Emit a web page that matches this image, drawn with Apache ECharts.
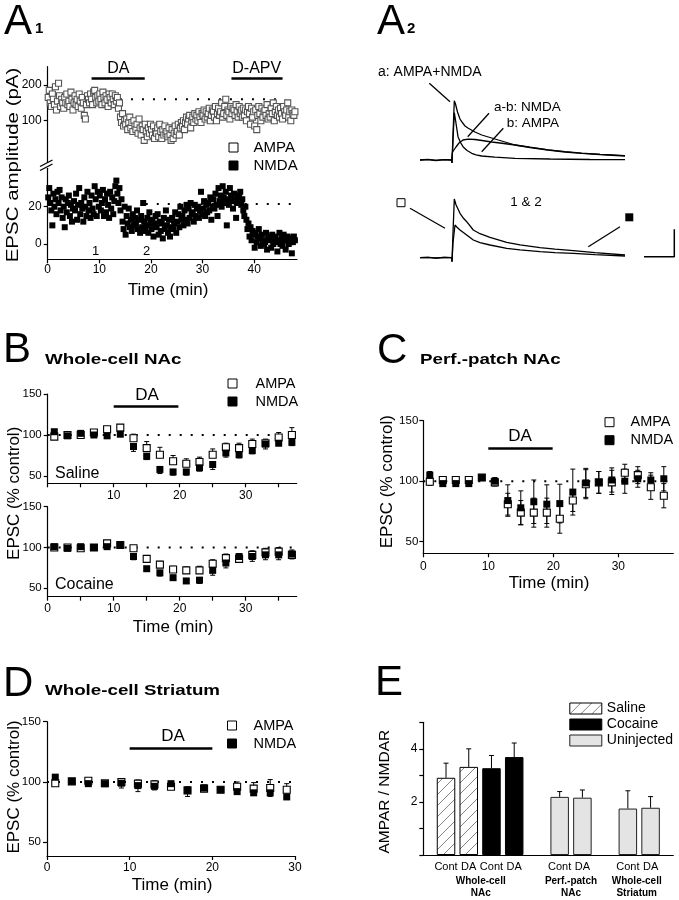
<!DOCTYPE html>
<html><head><meta charset="utf-8">
<script src="https://cdn.jsdelivr.net/npm/echarts@6/dist/echarts.min.js"></script>
<style>html,body{margin:0;padding:0;background:#fff}#c{width:679px;height:900px}</style>
</head><body><div id="c"></div>
<script>
const FF = 'Liberation Sans, Arial, Helvetica, sans-serif';

// ================= DATA =================
// Panel A1: EPSC amplitude (pA), one sample every a1StepMin minutes
const a1StepMin = 0.2;
const a1Ampa = [
165,185,150,140,175, 160,145,195,130,155, 205,170,140,160,150, 135,165,150,175,145,
155,140,180,160,130, 150,170,145,160,140, 175,155,135,165,150, 115,105,145,170,160,
150,175,160,145,180, 185,165,150,170,155, 175,160,145,180,165, 150,170,160,140,175,
165,150,175,160,145, 170,155,165,135,150, 110,95,120,85,100, 90,105,75,95,110,
80,95,70,100,85, 75,90,65,105,80, 60,85,75,45,90, 70,55,80,65,90,
75,60,85,50,70, 65,80,55,90,70, 50,75,60,85,65, 70,55,80,60,45,
75,50,65,85,60, 70,90,60,80,95, 85,100,75,95,110, 90,105,115,80,100,
110,95,120,105,115, 100,125,110,95,120, 115,130,105,125,110, 120,135,100,115,130,
125,110,140,100,120, 135,115,125,150,110, 120,140,160,115,130, 125,105,140,120,135,
130,115,145,125,110, 140,120,130,110,135, 115,130,100,125,140, 120,90,135,110,125,
85,130,75,115,140, 120,100,135,110,125, 130,115,145,105,120, 110,135,120,150,100,
125,140,115,130,110, 135,120,105,140,125, 115,130,150,110,125, 100,130,120,115,125
];
const a1Nmda = [
25,30,22,18,10, 27,20,24,16,28, 22,29,18,25,14, 20,9,24,17,22,
26,15,21,12,19, 23,18,27,13,21, 30,16,22,19,12, 25,20,15,28,18,
22,14,26,19,16, 31,24,15,28,20, 26,18,22,29,15, 24,17,27,21,14,
28,19,25,16,23, 31,34,27,22,30, 18,24,12,8,20, 5,15,11,19,9,
13,7,16,10,14, 11,18,8,13,6, 15,9,22,12,7, 10,14,6,17,11,
8,13,4,11,15, 9,16,5,12,7, 11,3,14,8,18, 10,6,13,4,9,
14,8,11,17,6, 12,16,9,20,13, 15,10,18,13,21, 11,19,14,22,16,
17,12,21,15,19, 20,14,18,28,16, 19,23,15,21,17, 22,18,25,13,20,
24,19,27,21,15, 30,23,26,20,31, 25,22,28,10,24, 21,30,26,23,19,
27,24,14,22,26, 25,28,21,24,18, 15,20,13,8,11, 4,9,2,7,5,
-2,6,1,4,8, 3,-1,5,2,0, 1,6,-3,3,4, 2,-2,5,0,3,
4,1,-4,2,6, 0,3,-1,5,2, -3,2,4,0,1, 3,-5,1,4,2
];
const a1AmpaBaseline = 160, a1NmdaBaseline = 21.5;
const a1DaPeriod = [8.5, 18.8], a1ApvPeriod = [35.6, 45.5];
const a1TopTicks = [100, 200], a1BotTicks = [0, 20], a1XTicks = [0, 10, 20, 30, 40];

// Panel A2: example traces (time, amplitude in arbitrary units)
const a2TraceA = [[0,0],[8,0.6],[16,-0.4],[24,0.4],[31.5,0],[32,-3],[33,25],[34.3,59.3],[35.5,56],[37.5,48],[40,41],[41.7,38.3],[45,34],[48.3,31.7],[55,28],[61.7,25],[70,22.5],[78.3,20],[86.7,17.5],[95,15],[110,12.5],[128,10],[145,8],[161.7,6.7],[180,5.5],[205,4]];
const a2TraceB = [[0,0],[8,0.4],[16,-0.5],[24,0.3],[31.5,0],[32,-3],[33,20],[34.3,47.3],[35.5,40],[38,23.3],[40.5,17.5],[43,13.3],[47,9.5],[51.7,6.7],[56,5.2],[61.7,4],[75,2.8],[95,1.7],[130,1],[170,0.5],[205,0.3]];
const a2TraceAB = [[31.7,0],[32.5,8],[34,10],[36,13],[39,17],[43,20],[48,20.8],[55,20.5],[62,19.5],[71.7,18],[80,17],[95,15],[110,12.8],[128,10.2],[145,8.3],[161.7,6.9],[180,5.7],[205,4.3]];
const a2Trace1 = [[0,0],[8,0.4],[16,-0.3],[24,0.3],[31.5,0],[32,-4],[33,25],[34.3,58.7],[36,53],[40,44.4],[43,40],[46.7,36],[53.3,27.7],[60,24],[70,20.4],[86.7,15.4],[100,12.8],[120,10],[135,8.5],[153.3,7],[175,5],[205,2.7]];
const a2Trace2 = [[0,0],[8,0.3],[16,-0.4],[24,0.2],[31.5,0],[32,-4],[33,15],[35,32.7],[37,30.5],[40,27.7],[46.7,22.7],[53.3,17.7],[60,15],[70,12.7],[86.7,9.3],[100,7.8],[120,6],[135,5],[153.3,4.3],[175,3],[205,1.7]];
const a2ScaleBar = [[224,1],[254.3,1],[254.3,28.4]];

// Panel B: whole-cell NAc (% control)
const bTimes = [1,3,5,7,9,11,13,15,17,19,21,23,25,27,29,31,33,35,37];
const bSalAmpa = [98,100,100,103,107,109,96,84,76,68,65,67,76,85,84,89,90,97,100];
const bSalAmpaErr = [3,3,3,3,3,3,5,8,9,7,6,6,7,5,6,6,5,6,9];
const bSalNmda = [104,99,102,100,99,101,86,74,58,55,55,60,64,78,76,81,89,90,91];
const bSalNmdaErr = [3,3,3,3,3,3,6,4,5,4,4,4,6,5,4,4,6,3,4];
const bCocAmpa = [100,100,99,100,105,103,99,86,79,73,72,72,80,87,86,91,94,95,91];
const bCocAmpaErr = [2,2,2,2,2,2,3,3,4,4,4,5,5,5,5,5,5,5,6];
const bCocNmda = [101,99,101,100,101,103,89,74,69,63,59,60,72,81,89,89,91,91,92];
const bCocNmdaErr = [2,2,2,2,2,2,4,3,4,3,3,4,6,6,6,6,6,6,6];

// Panel C: perforated patch NAc
const cTimes = bTimes;
const cAmpa = [99.5,101,101,101,103,99,81,74,74,74,69,84,97.5,99,99,107,105,95,88];
const cAmpaErr = [3,2,2,2,2,3,9,10,12,12,12,9,12,9,10,7,7,10,10];
const cNmda = [105,98,98,98,103,100,84,78,83,81,81.5,91,98.6,99,101,100,102,101,102];
const cNmdaErr = [3,2,2,2,2,3,13,14,18,16,16,19,12,9,10,10,7,6,10];

// Panel D: whole-cell striatum
const dTimes = [1,3,5,7,9,11,13,15,17,19,21,23,25,27,29];
const dAmpa = [99,100.5,101,99,100,98.6,98,96,93,94.5,93.6,96,94.5,95,93.6];
const dAmpaErr = [2,2,2,1.5,2,3,3,2,3,3,2,4,5,7,5];
const dNmda = [104,100.5,98.6,98.6,99,97,96.4,98.6,93,95,93.6,92,91,91,87.6];
const dNmdaErr = [4,2,2,2,4,5,3,2,5,3,2,2,2,3,2];

const pctTicks = [50, 100, 150];
const daPeriod = [10, 20];

// Panel E: AMPAR / NMDAR ratio
const eCategories = ['', 'Cont', 'DA', 'Cont', 'DA', '', 'Cont', 'DA', '', 'Cont', 'DA', ''];
const eSaline     = [null, 2.91, 3.32, null, null, null, null, null, null, null, null, null];
const eCocaine    = [null, null, null, 3.27, 3.69, null, null, null, null, null, null, null];
const eUninjected = [null, null, null, null, null, null, 2.19, 2.16, null, 1.75, 1.78, null];
const eErr        = [null, 0.55, 0.68, 0.48, 0.53, null, 0.20, 0.29, null, 0.67, 0.42, null];
const eLabelTicks = [2, 4];

// ================= HELPERS =================
const chart = echarts.init(document.getElementById('c'));
const BL = {color:'#000', width:1.2};

function axis(gi, min, max, labels, ticks, o) {
  o = o || {};
  const a = {
    type:'value', gridIndex:gi, min, max,
    axisLine:{show:true, onZero:false, lineStyle:BL},
    axisTick:{show:true, inside:false, length:4, lineStyle:BL},
    axisLabel:{show:true, color:'#000', fontSize:o.fs || 12, fontFamily:FF, margin:o.margin || 5},
    splitLine:{show:false}
  };
  if (labels) a.axisLabel.customValues = labels;
  if (ticks) a.axisTick.customValues = ticks;
  if (o.show === false) a.show = false;
  return a;
}
function sq(name, gi, times, vals, open, size, border) {
  return {type:'scatter', name, xAxisIndex:gi, yAxisIndex:gi, symbol:'rect', symbolSize:size, silent:true, z:3,
    itemStyle: open ? {color:'#fff', borderColor:border || '#000', borderWidth:1.1, opacity:1} : {color:'#000', opacity:1},
    data: times.map((t, i) => [t, vals[i]])};
}
function errSeries(gi, times, vals, errs, dir, capW) {
  const data = times.map((t, i) => [t, dir === 'up' ? vals[i] : vals[i] - errs[i], dir === 'down' ? vals[i] : vals[i] + errs[i]]);
  return {type:'custom', xAxisIndex:gi, yAxisIndex:gi, silent:true, z:2, data, encode:{x:0, y:[1,2]},
    renderItem: (params, api) => {
      const x = api.value(0);
      const p1 = api.coord([x, api.value(1)]), p2 = api.coord([x, api.value(2)]);
      const cw = capW / 2, st = {stroke:'#000', lineWidth:1};
      const ch = [{type:'line', shape:{x1:p1[0], y1:p1[1], x2:p2[0], y2:p2[1]}, style:st}];
      if (dir !== 'up') ch.push({type:'line', shape:{x1:p1[0]-cw, y1:p1[1], x2:p1[0]+cw, y2:p1[1]}, style:st});
      if (dir !== 'down') ch.push({type:'line', shape:{x1:p2[0]-cw, y1:p2[1], x2:p2[0]+cw, y2:p2[1]}, style:st});
      return {type:'group', children:ch};
    }};
}
function refLine(gi, x0, x1, y) {
  return {type:'line', xAxisIndex:gi, yAxisIndex:gi, data:[[x0, y], [x1, y]], symbol:'none', silent:true, z:1,
    lineStyle:{color:'#000', width:2, type:[2, 9]}};
}
function barMark(x0, x1, y, w) {
  return {silent:true, symbol:['none','none'], label:{show:false}, lineStyle:{color:'#000', width:w || 2.5, type:'solid'},
    data:[[{coord:[x0, y]}, {coord:[x1, y]}]]};
}
function trace(gi, pts, mark) {
  const s = {type:'line', xAxisIndex:gi, yAxisIndex:gi, data:pts, symbol:'none', silent:true, z:2,
    lineStyle:{color:'#000', width:1.3}};
  if (mark) s.markLine = {silent:true, symbol:['none','none'], label:{show:false},
    lineStyle:{color:'#000', width:1.3, type:'solid'},
    data: mark.map(m => [{coord:m[0]}, {coord:m[1]}])};
  return s;
}
function T(text, x, y, size, o) {
  o = o || {};
  return {type:'text', x, y, rotation:o.rot || 0, scaleX:o.sx || 1, silent:true, z:100,
    style:{text, fill:'#000', font:(o.bold ? 'bold ' : '') + size + 'px ' + FF,
      align:o.align || 'left', textAlign:o.align || 'left', verticalAlign:'middle', textVerticalAlign:'middle'}};
}
function legendSq(left, top, pad, fs) {
  return {left, top, orient:'vertical', itemWidth:9, itemHeight:9, itemGap:3, padding:0, selectedMode:false,
    textStyle:{fontSize:fs || 14.5, fontFamily:FF, color:'#000', padding:[0,0,0,pad]},
    data:[{name:'AMPA', icon:'rect', itemStyle:{color:'#fff', borderColor:'#000', borderWidth:1, opacity:1}},
          {name:'NMDA', icon:'rect', itemStyle:{color:'#000', borderColor:'#000', borderWidth:1, opacity:1}}]};
}

// hatch pattern for saline bars
const hc = document.createElement('canvas');
hc.width = 11; hc.height = 11;
const hx = hc.getContext('2d');
hx.fillStyle = '#fff'; hx.fillRect(0, 0, 11, 11);
hx.strokeStyle = '#777'; hx.lineWidth = 0.9;
hx.beginPath(); hx.moveTo(0, 11); hx.lineTo(11, 0); hx.moveTo(-1, 1); hx.lineTo(1, -1); hx.moveTo(10, 12); hx.lineTo(12, 10); hx.stroke();
const hatch = {image:hc, repeat:'repeat'};

// ================= OPTION =================
const grid = [
  {left:47.7, top:66.7, width:249.3, height:95},   // 0 A1 top
  {left:47.7, top:168.3, width:249.3, height:91},  // 1 A1 bottom
  {left:380, top:70, width:295, height:95},        // 2 A2 upper traces
  {left:380, top:192.7, width:295, height:70},     // 3 A2 lower traces
  {left:47.7, top:394, width:249, height:89.3},    // 4 B saline
  {left:47.7, top:506.7, width:249, height:90},    // 5 B cocaine
  {left:423.3, top:420.7, width:250, height:132.6},// 6 C
  {left:47, top:721.7, width:248, height:134.3},   // 7 D
  {left:423.3, top:722.3, width:250, height:132.7} // 8 E
];

const xAxis = [
  axis(0, 0, 48.3, null, null, {show:false}),
  axis(1, 0, 48.3, a1XTicks, a1XTicks, {margin:4}),
  axis(2, -40, 255, null, null, {show:false}),
  axis(3, -40, 255, null, null, {show:false}),
  axis(4, 0, 37.73, [10,20,30], [0,5,10,15,20,25,30,35], {margin:6}),
  axis(5, 0, 37.73, [0,10,20,30], [0,5,10,15,20,25,30,35], {margin:6}),
  axis(6, 0, 38.46, [0,10,20,30], [0,10,20,30], {margin:7}),
  axis(7, 0, 30, [0,10,20,30], [0,10,20,30], {margin:6}),
  {type:'category', gridIndex:8, data:eCategories, boundaryGap:false,
    axisLine:{show:true, lineStyle:BL}, axisTick:{show:false},
    axisLabel:{interval:0, color:'#000', fontSize:11, fontFamily:FF, margin:6}, splitLine:{show:false}}
];
const yAxis = [
  axis(0, -14.8, 251.3, a1TopTicks, a1TopTicks, {margin:6}),
  axis(1, -8.2, 40.6, a1BotTicks, a1BotTicks, {margin:6}),
  axis(2, -5, 90, null, null, {show:false}),
  axis(3, -5, 65, null, null, {show:false}),
  axis(4, 41.1, 150, pctTicks, pctTicks, {margin:6, fs:11.5}),
  axis(5, 39.7, 150, pctTicks, pctTicks, {margin:6, fs:11.5}),
  axis(6, 40.4, 150, pctTicks, pctTicks, {margin:5, fs:11.5}),
  axis(7, 38.6, 150, pctTicks, pctTicks, {margin:6, fs:11.5}),
  axis(8, 0, 5, eLabelTicks, [0,1,2,3,4,5], {margin:6})
];

const a1Times = a1Ampa.map((v, i) => (i + 0.5) * a1StepMin);
const series = [];
// A1
series.push(refLine(0, 14, 46, a1AmpaBaseline));
const sA1a = sq('AMPA', 0, a1Times, a1Ampa, true, 6, '#555');
sA1a.markLine = {silent:true, symbol:['none','none'], label:{show:false}, lineStyle:{color:'#000', width:2.5, type:'solid'},
  data:[[{coord:[a1DaPeriod[0], 220]}, {coord:[a1DaPeriod[1], 220]}], [{coord:[a1ApvPeriod[0], 220]}, {coord:[a1ApvPeriod[1], 220]}]]};
series.push(sA1a);
series.push(refLine(1, 19, 47.5, a1NmdaBaseline));
series.push(sq('NMDA', 1, a1Times, a1Nmda, false, 6));
// A2
series.push(trace(2, a2TraceA, [[[9.3, 76.7],[30, 58.3]], [[69, 46.7],[47.7, 23.3]], [[83.3, 31.7],[61.7, 8.3]]]));
series.push(trace(2, a2TraceB));
series.push(trace(2, a2TraceAB));
series.push(trace(3, a2Trace1, [[[-10, 49.4],[25, 29.4]], [[200, 31],[168.3, 11]]]));
series.push(trace(3, a2Trace2));
series.push({type:'line', xAxisIndex:3, yAxisIndex:3, data:a2ScaleBar, symbol:'none', silent:true, lineStyle:{color:'#000', width:1.5}});
// B saline
series.push(refLine(4, 0, 37.5, 100));
series.push(errSeries(4, bTimes, bSalAmpa, bSalAmpaErr, 'up', 5));
series.push(errSeries(4, bTimes, bSalNmda, bSalNmdaErr, 'down', 5));
const sBa = sq('AMPA', 4, bTimes, bSalAmpa, true, 7);
sBa.markLine = barMark(daPeriod[0], 19.8, 135.4);
series.push(sBa);
series.push(sq('NMDA', 4, bTimes, bSalNmda, false, 7));
// B cocaine
series.push(refLine(5, 0, 37.5, 100));
series.push(errSeries(5, bTimes, bCocAmpa, bCocAmpaErr, 'up', 5));
series.push(errSeries(5, bTimes, bCocNmda, bCocNmdaErr, 'down', 5));
series.push(sq('AMPA', 5, bTimes, bCocAmpa, true, 7));
series.push(sq('NMDA', 5, bTimes, bCocNmda, false, 7));
// C
series.push(refLine(6, 0, 38, 100));
series.push(errSeries(6, cTimes, cAmpa, cAmpaErr, 'both', 5));
series.push(errSeries(6, cTimes, cNmda, cNmdaErr, 'both', 5));
const sCa = sq('AMPA', 6, cTimes, cAmpa, true, 7);
sCa.markLine = barMark(daPeriod[0], 19.9, 127.5);
series.push(sCa);
series.push(sq('NMDA', 6, cTimes, cNmda, false, 7));
// D
series.push(refLine(7, 0, 30, 100));
series.push(errSeries(7, dTimes, dAmpa, dAmpaErr, 'up', 5));
series.push(errSeries(7, dTimes, dNmda, dNmdaErr, 'down', 5));
const sDa = sq('AMPA', 7, dTimes, dAmpa, true, 7);
sDa.markLine = barMark(daPeriod[0], daPeriod[1], 128.2);
series.push(sDa);
series.push(sq('NMDA', 7, dTimes, dNmda, false, 7));
// E
const barBase = {type:'bar', xAxisIndex:8, yAxisIndex:8, barWidth:18.5, barGap:'-100%', silent:true, z:2};
series.push(Object.assign({}, barBase, {name:'Saline', data:eSaline, itemStyle:{color:hatch, borderColor:'#000', borderWidth:1}}));
series.push(Object.assign({}, barBase, {name:'Cocaine', data:eCocaine, itemStyle:{color:'#000', borderColor:'#000', borderWidth:1}}));
series.push(Object.assign({}, barBase, {name:'Uninjected', data:eUninjected, itemStyle:{color:'#e4e4e4', borderColor:'#222', borderWidth:1}}));
const eTops = eSaline.map((v, i) => v != null ? v : (eCocaine[i] != null ? eCocaine[i] : eUninjected[i]));
const eIdx = [], eVals = [], eErrs = [];
eTops.forEach((v, i) => { if (v != null) { eIdx.push(i); eVals.push(v); eErrs.push(eErr[i]); } });
series.push(errSeries(8, eIdx, eVals, eErrs, 'up', 5));

const legend = [
  legendSq(228.5, 140, 10.5, 15),
  legendSq(227.5, 376, 13.5),
  legendSq(604.5, 414.7, 11.5),
  legendSq(227, 718, 12),
  {left:569.3, top:701.5, orient:'vertical', itemWidth:32, itemHeight:11, itemGap:2, padding:0, selectedMode:false,
    textStyle:{fontSize:14, fontFamily:FF, color:'#000'},
    data:[{name:'Saline', icon:'rect', itemStyle:{color:hatch, borderColor:'#000', borderWidth:1}},
          {name:'Cocaine', icon:'rect', itemStyle:{color:'#000', borderColor:'#000', borderWidth:1}},
          {name:'Uninjected', icon:'rect', itemStyle:{color:'#e4e4e4', borderColor:'#222', borderWidth:1}}]}
];

const V = Math.PI / 2;
const graphic = [
  // panel letters
  T('A', 4, 22, 42), T('1', 35, 29, 15, {bold:true}),
  T('A', 377, 22, 42), T('2', 407, 29, 15, {bold:true}),
  T('B', 3, 350, 42), T('C', 377, 351, 42), T('D', 3, 684, 42), T('E', 375, 683, 42),
  // panel titles
  T('Whole-cell NAc', 45, 359.5, 15, {bold:true, sx:1.25}),
  T('Perf.-patch NAc', 420, 360, 15, {bold:true, sx:1.25}),
  T('Whole-cell Striatum', 45, 691, 15, {bold:true, sx:1.25}),
  // axis titles
  T('EPSC amplitude (pA)', 13.5, 165, 16, {rot:V, align:'center', sx:1.28}),
  T('Time (min)', 168, 290, 17, {align:'center'}),
  T('EPSC (% control)', 14, 493.3, 17, {rot:V, align:'center'}),
  T('Time (min)', 173, 627, 17, {align:'center'}),
  T('EPSC (% control)', 387, 481.7, 17, {rot:V, align:'center'}),
  T('Time (min)', 549, 583.3, 17, {align:'center'}),
  T('EPSC (% control)', 14, 787, 17, {rot:V, align:'center'}),
  T('Time (min)', 172, 885, 17, {align:'center'}),
  T('AMPAR / NMDAR', 385, 791.7, 15.5, {rot:V, align:'center'}),
  // A1 annotations
  T('DA', 118.4, 68.3, 16, {align:'center'}),
  T('D-APV', 256.7, 68.3, 16, {align:'center'}),
  T('1', 95.7, 251.7, 13, {align:'center'}),
  T('2', 146.7, 251.7, 13, {align:'center'}),
  {type:'line', silent:true, shape:{x1:40, y1:166.5, x2:52.5, y2:160}, style:{stroke:'#000', lineWidth:1.3}},
  {type:'line', silent:true, shape:{x1:40, y1:170.5, x2:52.5, y2:164}, style:{stroke:'#000', lineWidth:1.3}},
  // A2 annotations
  T('a: AMPA+NMDA', 378, 71.7, 14),
  T('a-b: NMDA', 494, 107.3, 13.5),
  T('b: AMPA', 506.7, 123.3, 13.5),
  T('1 & 2', 526, 202.3, 13.5, {align:'center'}),
  {type:'rect', silent:true, shape:{x:397, y:198.7, width:8, height:8}, style:{fill:'#fff', stroke:'#000', lineWidth:1}},
  {type:'rect', silent:true, shape:{x:625.3, y:213.3, width:8, height:8}, style:{fill:'#000'}},
  // B/C/D annotations
  T('Saline', 55, 473.3, 16), T('Cocaine', 55, 585, 16),
  T('DA', 147, 395, 17, {align:'center'}),
  T('DA', 520, 436.7, 17, {align:'center'}),
  T('DA', 173, 736.7, 17, {align:'center'}),
  // E group labels
  T('Whole-cell', 480.7, 881.7, 10, {bold:true, align:'center'}), T('NAc', 480.7, 893.3, 10, {bold:true, align:'center'}),
  T('Perf.-patch', 571, 881.7, 10, {bold:true, align:'center'}), T('NAc', 571, 893.3, 10, {bold:true, align:'center'}),
  T('Whole-cell', 636.7, 881.7, 10, {bold:true, align:'center'}), T('Striatum', 636.7, 893.3, 10, {bold:true, align:'center'})
];

chart.setOption({animation:false, backgroundColor:'#fff', textStyle:{fontFamily:FF},
  grid, xAxis, yAxis, series, legend, graphic});
</script></body></html>
